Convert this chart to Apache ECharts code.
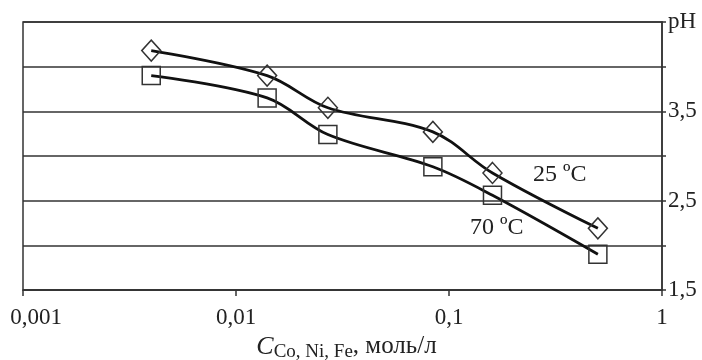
<!DOCTYPE html>
<html>
<head>
<meta charset="utf-8">
<script src="https://cdn.jsdelivr.net/npm/echarts@6/dist/echarts.min.js"></script>
<style>
  html, body { margin: 0; padding: 0; background: #fff; }
  #chart { width: 702px; height: 360px; }
</style>
</head>
<body>
<div id="chart"></div>
<script>
// концентрация, моль/л
var conc = [0.004, 0.014, 0.027, 0.084, 0.16, 0.5];
// pH при 25 ºC и 70 ºC
var ph25 = [4.18, 3.90, 3.54, 3.27, 2.81, 2.19];
var ph70 = [3.90, 3.65, 3.24, 2.88, 2.56, 1.90];
// подписи оси pH
var yLabels = { '4.5': 'pH', '3.5': '3,5', '2.5': '2,5', '1.5': '1,5' };

var chart = echarts.init(document.getElementById('chart'));
var font = '"Liberation Serif", "Times New Roman", serif';

function pairs(xs, ys) {
    return xs.map(function (x, i) { return [x, ys[i]]; });
}

var option = {
    animation: false,
    textStyle: { fontFamily: font, color: '#222' },
    grid: {
        left: 23, right: 40, top: 22, bottom: 70,
        outerBoundsMode: 'none',
        containLabel: false,
        show: true, borderColor: '#333', borderWidth: 1.5
    },
    xAxis: {
        type: 'log',
        logBase: 10,
        min: 0.001,
        max: 1,
        axisLine: { lineStyle: { color: '#333', width: 1.5 } },
        axisTick: { show: true, length: 6, lineStyle: { color: '#333', width: 1.5 } },
        splitLine: { show: false },
        axisLabel: {
            fontFamily: font, fontSize: 23, color: '#222', margin: 16,
            formatter: function (v) {
                var s = String(+(+v).toPrecision(2)).replace('.', ',');
                if (s === '0,001') return '{first|' + s + '}';
                return s;
            },
            rich: {
                first: { fontFamily: font, fontSize: 23, color: '#222', padding: [0, 0, 0, 26] }
            }
        },
        name: '{c|C}{s|Co, Ni, Fe}{n|, моль/л}',
        nameLocation: 'middle',
        nameGap: 42,
        nameTextStyle: {
            padding: [0, 0, 0, 8],
            rich: {
                c: { fontFamily: font, fontStyle: 'italic', fontSize: 26, color: '#222' },
                s: { fontFamily: font, fontSize: 19, color: '#222', padding: [10, 0, 0, 0] },
                n: { fontFamily: font, fontSize: 25, color: '#222' }
            }
        }
    },
    yAxis: {
        type: 'value',
        position: 'right',
        min: 1.5,
        max: 4.5,
        interval: 0.5,
        axisLine: { show: true, lineStyle: { color: '#333', width: 1.5 } },
        axisTick: { show: true, length: 4, lineStyle: { color: '#333', width: 1.5 } },
        splitLine: { show: true, lineStyle: { color: '#333', width: 1.5 } },
        axisLabel: {
            fontFamily: font, fontSize: 23, color: '#222', margin: 6,
            formatter: function (v) {
                var k = (Math.round(v * 10) / 10).toFixed(1);
                return yLabels[k] || '';
            }
        }
    },
    series: [
        {
            name: '25 ºC',
            type: 'line',
            smooth: 0.35,
            data: pairs(conc, ph25),
            symbol: 'diamond',
            symbolSize: [19, 21],
            lineStyle: { color: '#111', width: 2.8 },
            itemStyle: { color: 'rgba(255,255,255,0)', borderColor: '#333', borderWidth: 1.5 },
            z: 3
        },
        {
            name: '70 ºC',
            type: 'line',
            smooth: 0.35,
            data: pairs(conc, ph70),
            symbol: 'rect',
            symbolSize: 18,
            lineStyle: { color: '#111', width: 2.8 },
            itemStyle: { color: 'rgba(255,255,255,0)', borderColor: '#333', borderWidth: 1.5 },
            z: 3
        }
    ],
    graphic: [
        {
            type: 'text', left: 533, top: 163,
            style: { text: '25 ºC', font: '24px ' + font, fill: '#222' }
        },
        {
            type: 'text', left: 470, top: 216,
            style: { text: '70 ºC', font: '24px ' + font, fill: '#222' }
        }
    ]
};

chart.setOption(option);
</script>
</body>
</html>
